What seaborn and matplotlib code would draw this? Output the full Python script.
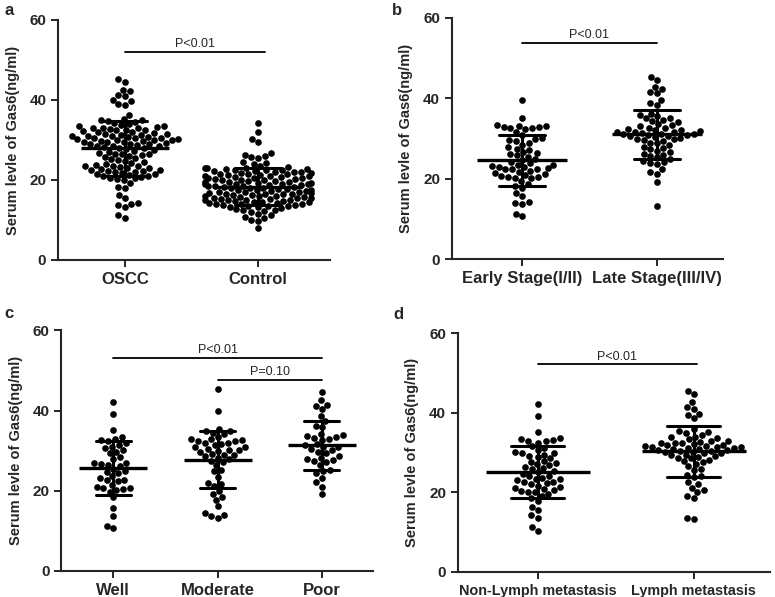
import numpy as np
import pandas as pd
import matplotlib
matplotlib.use("Agg")
import matplotlib.pyplot as plt
import seaborn as sns

# Serum Gas6 (ng/ml) values

# a - OSCC vs Control
oscc = [45.3, 44.6, 42.6, 42.2, 41.3, 41.0, 40.1, 39.7, 39.0, 38.8, 36.2,
        35.2, 35.0, 34.8, 35.1, 34.6, 34.2, 34.0, 33.7, 33.5, 33.3, 33.4, 33.1,
        32.8, 32.9, 32.6, 32.4, 32.2, 32.0, 31.8, 31.5, 31.3, 31.1, 31.0, 30.8,
        30.6, 30.5, 30.4, 30.2, 30.0, 29.8, 29.6, 29.5, 29.3, 29.0, 28.8, 28.6,
        28.4, 28.2, 28.0, 27.8, 27.5, 27.3, 27.1, 26.8, 26.5, 26.3, 26.1, 25.8,
        25.5, 25.2, 25.0, 24.8, 24.5, 24.2, 24.0, 23.7, 23.5, 23.3, 23.1, 22.9,
        22.7, 22.5, 22.3, 22.1, 21.9, 21.7, 21.5, 21.3, 21.1, 20.9, 20.7, 20.5,
        20.3, 20.1, 33.0, 32.5, 31.9, 31.6, 31.2, 30.9, 30.7, 30.3, 30.1, 29.9,
        29.7, 29.4, 29.1, 28.9, 28.5, 27.9, 26.6, 26.4, 23.6, 23.4, 22.6, 22.2,
        21.6, 20.4,
        19.2, 18.3, 18.0, 16.3, 15.5, 14.3, 13.9, 13.7, 13.2, 11.2, 10.5]
control = [34.2, 31.9, 30.3, 29.4, 26.8, 26.3, 26.1, 25.7, 25.5, 24.5, 24.2, 24.0,
           23.4, 23.2, 23.1, 23.0, 22.9, 22.8, 22.6, 22.5, 22.4, 22.3, 22.1, 22.0,
           21.8, 21.7, 21.5, 21.4, 21.2, 21.0, 20.9, 20.7, 20.6, 20.4, 20.2, 20.1,
           19.9, 19.8, 19.6, 19.5, 19.3, 19.2, 19.0, 18.9, 18.8, 18.6, 18.5, 18.4,
           18.2, 18.1, 18.0, 17.8, 17.7, 17.5, 17.4, 17.2, 17.1, 16.9, 16.8, 16.6,
           16.5, 16.3, 16.2, 16.0, 15.9, 15.7, 15.6, 15.4, 15.3, 15.1, 15.0, 14.8,
           14.7, 14.5, 14.4, 14.2, 14.1, 13.9, 13.8, 13.6, 13.5, 13.3, 13.2, 13.0,
           22.7, 22.2, 21.9, 21.6, 21.1, 20.8, 20.5, 20.0, 19.7, 19.4, 19.1, 18.7,
           18.3, 17.9, 17.6, 17.3, 17.0, 16.7, 16.4, 16.1, 15.8, 15.5, 15.2, 14.9,
           14.6, 14.3, 14.0, 13.7, 13.4, 21.3, 20.3, 18.9, 16.6, 15.0,
           12.8, 12.6, 12.4, 12.2, 12.0, 11.5, 11.2, 10.8, 10.5, 10.0, 9.8, 8.0]

# b - clinical stage
early_stage = [39.6, 35.2, 33.4, 33.1, 32.9, 32.8, 32.6, 32.5, 32.3, 33.0, 31.5,
               30.8, 30.1, 29.9, 29.6, 29.3, 29.0, 28.5, 27.8, 27.5, 27.2, 26.7,
               26.5, 26.2, 25.8, 25.5, 25.0, 24.7, 24.2, 23.8, 23.5, 23.4, 23.2,
               23.0, 22.8, 22.6, 22.4, 22.3, 22.0, 21.7, 21.4, 21.1, 20.9, 20.6,
               20.4, 20.3, 20.2, 20.1, 19.5, 18.8, 18.2, 17.8, 16.5, 15.7, 14.3,
               14.0, 13.8, 11.3, 10.6, 22.5]
late_stage = [45.4, 44.6, 42.8, 42.3, 41.5, 41.2, 39.7, 38.8, 38.3, 36.2, 35.9,
              35.5, 35.2, 35.0, 34.7, 34.3, 34.0, 33.6, 33.3, 33.0, 32.7, 32.5,
              32.3, 32.1, 32.0, 31.8, 31.6, 31.5, 31.4, 31.2, 31.1, 31.0, 30.8,
              30.7, 30.5, 30.4, 30.2, 30.0, 29.7, 29.4, 29.0, 28.8, 28.5, 28.0,
              27.6, 27.3, 27.0, 26.6, 26.2, 25.9, 25.6, 25.3, 24.9, 24.4, 24.1,
              23.8, 23.6, 22.3, 21.6, 21.2, 19.2, 13.3, 31.7, 30.9, 29.8]

# c - differentiation
well = [42.2, 39.1, 35.2, 33.4, 33.0, 32.6, 32.4, 31.8, 31.5, 31.0, 30.6, 30.2,
        29.7, 29.4, 28.3, 28.0, 27.0, 26.8, 26.5, 26.2, 25.5, 25.0, 24.7, 24.4,
        23.6, 23.2, 22.8, 22.6, 22.5, 21.5, 21.0, 20.8, 20.6, 20.4, 20.2, 19.8,
        18.4, 15.7, 13.8, 11.3, 10.6, 26.9]
moderate = [45.3, 39.9, 35.3, 35.0, 34.8, 34.5, 34.2, 33.0, 32.8, 32.6, 32.5,
            32.3, 32.0, 31.6, 31.3, 31.0, 30.5, 30.2, 29.9, 29.6, 29.2, 28.6,
            28.2, 27.5, 27.1, 26.5, 25.2, 24.9, 30.1, 23.5, 30.8, 33.4, 22.0,
            29.0, 21.7, 31.8, 21.2, 27.8, 20.0, 28.9, 19.3, 18.4, 17.8, 16.2,
            14.4, 14.0, 13.6, 13.2]
poor = [44.6, 42.6, 41.5, 41.2, 40.3, 38.6, 37.3, 36.1, 35.8, 34.2, 33.9, 33.6,
        33.3, 33.1, 32.9, 32.6, 31.6, 31.3, 31.0, 30.8, 30.1, 29.7, 29.3, 28.6,
        28.2, 27.7, 27.4, 27.2, 26.5, 25.3, 25.0, 24.4, 23.3, 22.1, 21.0, 19.1,
        30.4, 27.9]

# d - lymph node metastasis
non_lymph = [42.2, 39.1, 35.1, 33.6, 33.4, 33.2, 33.0, 32.8, 32.5, 31.6, 31.2,
             30.6, 30.2, 29.9, 29.8, 29.5, 29.2, 28.8, 28.5, 27.8, 27.4, 27.1,
             26.8, 26.4, 26.1, 25.8, 25.4, 25.0, 24.6, 24.2, 24.0, 23.6, 23.3,
             23.0, 22.7, 22.5, 22.3, 22.0, 21.7, 21.3, 21.0, 20.8, 20.6, 20.4,
             20.2, 20.0, 19.6, 19.2, 18.5, 17.8, 16.3, 15.5, 14.2, 13.6, 11.2,
             10.4, 27.6, 23.4]
lymph = [45.4, 44.6, 42.6, 41.4, 41.0, 39.8, 39.4, 38.6, 36.0, 35.4, 35.1, 34.8,
         34.4, 34.0, 33.6, 33.3, 33.0, 32.7, 32.5, 32.3, 32.1, 31.9, 31.8, 31.6,
         31.5, 31.3, 31.2, 31.0, 30.9, 30.7, 30.5, 30.4, 30.2, 30.0, 29.8, 29.5,
         29.3, 29.0, 28.7, 28.5, 28.1, 27.8, 27.5, 27.2, 32.4, 26.5, 33.8, 25.9,
         25.6, 30.1, 31.1, 24.4, 24.0, 23.8, 32.9, 31.7, 22.6, 22.0, 21.2, 20.5,
         20.0, 19.2, 18.5, 13.6, 13.2, 31.4, 30.6, 29.1]

sns.set_style("ticks")
plt.rcParams['font.family'] = ['Liberation Sans', 'DejaVu Sans']
plt.rcParams['axes.linewidth'] = 1.5

FIG_W, FIG_H = 7.75, 5.97
fig = plt.figure(figsize=(FIG_W, FIG_H), dpi=100)


def panel(rect, groups, labels, xlim, letter, letter_xy, brackets, xfs=12):
    ax = fig.add_axes(rect)
    df = pd.DataFrame({
        'group': np.repeat(labels, [len(g) for g in groups]),
        'value': np.concatenate(groups),
    })
    sns.swarmplot(data=df, x='group', y='value', order=labels, color='black',
                  size=4.8, ax=ax, warn_thresh=1, zorder=2)
    # mean line + SD whiskers
    pt_per_unit = rect[2] * FIG_W * 72 / (xlim[1] - xlim[0])
    sns.pointplot(data=df, x='group', y='value', order=labels, errorbar='sd',
                  capsize=0.34, color='black', ax=ax,
                  marker='_', markersize=0.66 * pt_per_unit, markeredgewidth=2.4,
                  linestyle='none', err_kws={'linewidth': 2.2})
    ax.set_xlim(*xlim)
    ax.set_ylim(0, 60)
    ax.set_yticks([0, 20, 40, 60])
    ax.set_xlabel('')
    ax.set_ylabel('Serum levle of Gas6(ng/ml)', fontsize=10.5,
                  fontweight='bold', labelpad=7)
    ax.tick_params(axis='both', length=5, width=1.4)
    ax.tick_params(axis='y', labelsize=11)
    ax.tick_params(axis='x', labelsize=xfs)
    for t in ax.get_xticklabels() + ax.get_yticklabels():
        t.set_fontweight('bold')
    sns.despine(ax=ax)
    for x0, x1, y, txt in brackets:
        ax.plot([x0, x1], [y, y], color='black', lw=1.3, clip_on=False)
        ax.text((x0 + x1) / 2, y + 0.4, txt, ha='center', va='bottom',
                fontsize=9)
    fig.text(letter_xy[0], letter_xy[1], letter, fontsize=12,
             fontweight='bold', ha='left', va='top')
    return ax


panel([0.075, 0.5645, 0.351, 0.402], [oscc, control], ['OSCC', 'Control'],
      (-0.50, 1.54), 'a', (0.006, 0.995),
      [(0.0, 1.05, 52.0, 'P<0.01')])

panel([0.583, 0.566, 0.350, 0.404], [early_stage, late_stage],
      ['Early Stage(I/II)', 'Late Stage(III/IV)'],
      (-0.52, 1.49), 'b', (0.506, 0.995),
      [(0.0, 1.0, 53.8, 'P<0.01')])

panel([0.079, 0.0436, 0.402, 0.403], [well, moderate, poor],
      ['Well', 'Moderate', 'Poor'],
      (-0.50, 2.49), 'c', (0.006, 0.487),
      [(0.0, 2.0, 53.2, 'P<0.01'), (1.0, 2.0, 47.7, 'P=0.10')])

panel([0.591, 0.042, 0.403, 0.400], [non_lymph, lymph],
      ['Non-Lymph metastasis', 'Lymph metastasis'],
      (-0.51, 1.49), 'd', (0.508, 0.485),
      [(0.0, 1.02, 52.2, 'P<0.01')], xfs=10.4)

fig.savefig('out.png', dpi=100)
